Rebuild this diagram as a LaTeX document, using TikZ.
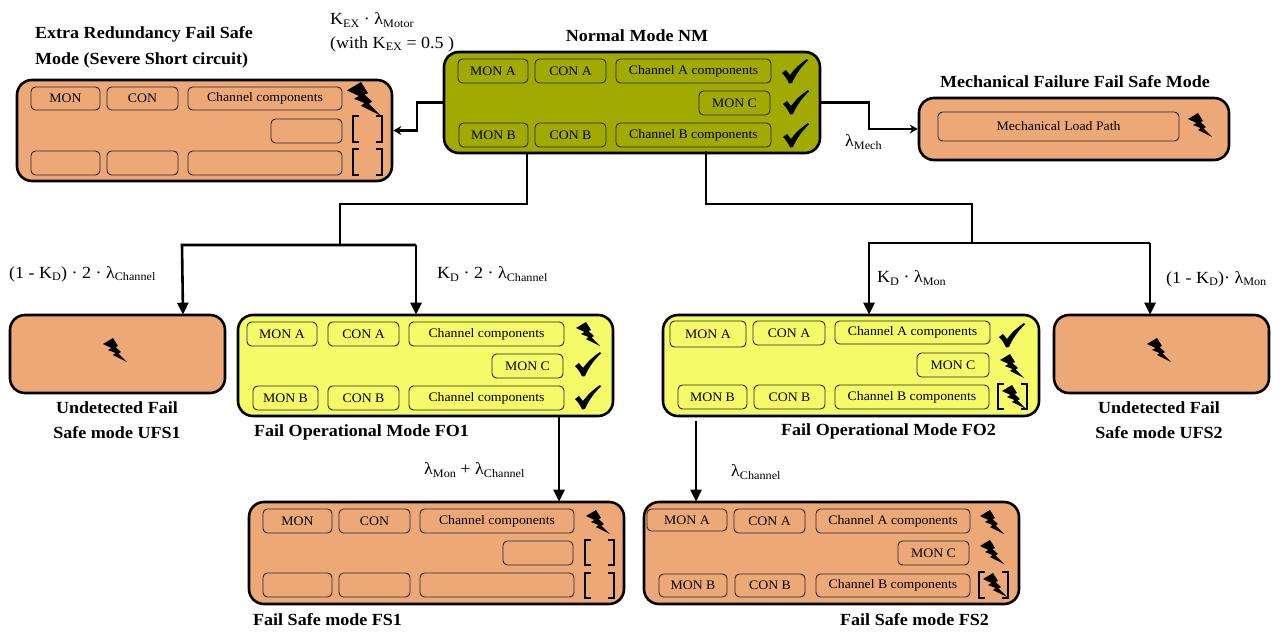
\documentclass[tikz,border=0pt]{standalone}
\usepackage{fontspec}
\setmainfont[FakeStretch=1.06]{Liberation Serif}
\usetikzlibrary{arrows.meta,calc}
\definecolor{orangefill}{RGB}{237,168,120}
\definecolor{olivefill}{RGB}{160,170,0}
\definecolor{yellowfill}{RGB}{245,250,105}
\newcommand{\sbs}[1]{\raisebox{-0.28ex}{\fontsize{11.5}{12}\selectfont #1}}
\newcommand{\lam}{λ}
\newcommand{\bx}[7][innerbox]{%
  \pgfmathsetmacro{\cxv}{(#4+#6)/2}\pgfmathsetmacro{\cyv}{(#3+#5)/2}%
  \pgfmathsetmacro{\wv}{#5-#3}\pgfmathsetmacro{\hv}{#6-#4}%
  \node[#1,minimum width=\wv pt,minimum height=\hv pt] (#2) at (\cyv,\cxv) {#7};}
\newcommand{\bolt}[3][1]{\begin{scope}[shift={(#2,#3)},scale=#1]
  \fill[black] (0,6) -- (10,0) -- (15,8) -- (12.5,9) -- (18,14) -- (15.5,15.5) -- (24,24) -- (10,17) -- (12.5,15) -- (5,12) -- (8.5,10) -- cycle;
  \end{scope}}
\newcommand{\chk}[2]{\begin{scope}[shift={(#1,#2)}]
  \fill[black] (0,14) -- (4,11) -- (8,16) .. controls (13,9) and (19,4) .. (25,0) -- (26,1.5) .. controls (19,8) and (14,15) .. (10,24) -- (7,24.5) .. controls (5,20) and (3,17) .. (0,14) -- cycle;
  \end{scope}}
\newcommand{\brk}[4]{\draw[bracket] (#1+6,#2) -- (#1,#2) -- (#1,#4) -- (#1+6,#4);
  \draw[bracket] (#3-6,#2) -- (#3,#2) -- (#3,#4) -- (#3-6,#4);}
\tikzset{
  x=1pt,y=-1pt,
  innerbox/.style={draw=black!85,rounded corners=4.5pt,line width=0.9pt,inner sep=0pt,font=\fontsize{13}{15}\selectfont},
  orangebox/.style={draw=black,fill=orangefill,rounded corners=15pt,line width=2.6pt,inner sep=0pt},
  olivebox/.style={orangebox,fill=olivefill},
  yellowbox/.style={orangebox,fill=yellowfill},
  conn/.style={draw=black,line width=2.6pt},
  connarrow/.style={conn,-{Triangle[length=12pt,width=11pt]},shorten >=-1pt},
  smallarrow/.style={conn,-{Stealth[length=8pt,width=9pt]}},
  bracket/.style={draw=black,line width=1.9pt},
  title/.style={font=\bfseries\fontsize{17}{20}\selectfont,inner sep=0pt},
  lab/.style={font=\fontsize{17}{20}\selectfont,inner sep=0pt},
}
\begin{document}
\begin{tikzpicture}
\useasboundingbox (0,0) rectangle (1283,632);
% outer boxes
\bx[olivebox]{nm}{444}{52}{820}{153}{}
\bx[orangebox]{erfs}{17}{80}{392}{181}{}
\bx[orangebox]{mf}{919}{98}{1229}{160}{}
\bx[orangebox]{ufs1}{10}{315}{225}{393}{}
\bx[yellowbox]{fo1}{238}{315}{613}{416}{}
\bx[yellowbox]{fo2}{663}{315}{1039}{416}{}
\bx[orangebox]{ufs2}{1054}{315}{1269}{393}{}
\bx[orangebox]{fs1}{249}{502}{624}{604}{}
\bx[orangebox]{fs2}{644}{502}{1019}{604}{}
% NM
\bx{nma}{458}{59}{528}{83}{MON A}
\bx{nmca}{535}{59}{606}{83}{CON A}
\bx{nmcha}{616}{59}{771}{83}{Channel A components}
\bx{nmc}{699}{91}{770}{115}{MON C}
\bx{nmb}{459}{123}{528}{147}{MON B}
\bx{nmcb}{535}{123}{606}{147}{CON B}
\bx{nmchb}{616}{123}{771}{147}{Channel B components}
\chk{782}{59}\chk{783}{90}\chk{783}{123}
% ERFS
\bx{e1}{31}{87}{100}{110}{MON}
\bx{e2}{107}{87}{178}{110}{CON}
\bx{e3}{188}{87}{342}{110}{Channel components}
\bx{e4}{271}{119}{342}{143}{}
\bx{e5}{31}{151}{100}{175}{}
\bx{e6}{107}{151}{178}{175}{}
\bx{e7}{188}{151}{342}{175}{}
\brk{353}{116}{382}{142}\brk{353}{149}{382}{175}
\bolt[1.4]{347}{82}
% MF
\bx{m1}{938}{112}{1179}{141}{Mechanical Load Path}
\bolt{1188}{113}
% UFS
\bolt{103}{338}\bolt{1147}{338}
% FO1
\bx{f1}{247}{322}{317}{346}{MON A}
\bx{f2}{328}{322}{399}{346}{CON A}
\bx{f3}{409}{322}{564}{346}{Channel components}
\bx{f4}{492}{354}{563}{378}{MON C}
\bx{f5}{253}{386}{318}{410}{MON B}
\bx{f6}{328}{386}{399}{410}{CON B}
\bx{f7}{409}{386}{564}{410}{Channel components}
\bolt{576}{322}\chk{575}{352}\chk{575}{385}
% FO2
\bx{g1}{670}{321}{746}{347}{MON A}
\bx{g2}{753}{321}{825}{345}{CON A}
\bx{g3}{835}{321}{990}{344}{Channel A components}
\bx{g4}{917}{353}{989}{377}{MON C}
\bx{g5}{678}{385}{747}{409}{MON B}
\bx{g6}{754}{385}{825}{409}{CON B}
\bx{g7}{835}{385}{989}{409}{Channel B components}
\chk{999}{323}
\bolt{1000}{354}
\brk{998}{384}{1027}{409}
\bolt{1002}{385}
% FS1
\bx{h1}{263}{509}{332}{533}{MON}
\bx{h2}{339}{509}{410}{533}{CON}
\bx{h3}{420}{509}{574}{533}{Channel components}
\bx{h4}{503}{541}{573}{565}{}
\bx{h5}{263}{573}{332}{597}{}
\bx{h6}{339}{573}{410}{597}{}
\bx{h7}{420}{573}{574}{597}{}
\bolt{586}{510}
\brk{585}{540}{614}{565}\brk{585}{573}{614}{598}
% FS2
\bx{k1}{647}{509}{727}{531}{MON A}
\bx{k2}{734}{509}{805}{533}{CON A}
\bx{k3}{816}{509}{970}{533}{Channel A components}
\bx{k4}{898}{541}{969}{565}{MON C}
\bx{k5}{659}{574}{727}{597}{MON B}
\bx{k6}{735}{574}{805}{597}{CON B}
\bx{k7}{816}{574}{970}{597}{Channel B components}
\bolt{980}{510}\bolt{980}{540}
\brk{979}{572}{1008}{598}
\bolt{983}{573}
% connectors
\coordinate (jl) at (417,102.5);
\coordinate (jr) at (869,102.5);
\draw[smallarrow] (nm.west) -- (jl) |- (erfs.east);
\draw[smallarrow] (nm.east) -- (jr) |- (mf.west);
\coordinate (ja) at (527,204);
\coordinate (jb) at (340,204);
\coordinate (jc) at (340,245);
\coordinate (jd) at (182,245);
\coordinate (je) at (416,245);
\draw[conn] ([xshift=-105pt]nm.south) -- (ja) -- (jb) -- (jc);
\draw[connarrow] (je) -- (jd) -- ([xshift=65.5pt]ufs1.north);
\draw[connarrow] (je) -- ([xshift=-9.5pt]fo1.north);
\coordinate (ka) at (706,204);
\coordinate (kb) at (972,204);
\coordinate (kc) at (972,243);
\coordinate (kd) at (869,243);
\coordinate (ke) at (1150,243);
\draw[conn] ([xshift=74pt,yshift=3pt]nm.south) -- (ka) -- (kb) -- (kc);
\draw[connarrow] (ke) -- (kd) -- ([xshift=18pt]fo2.north);
\draw[connarrow] (ke) -- ([xshift=-11.5pt]ufs2.north);
\draw[connarrow] ([xshift=133.5pt]fo1.south) -- ([xshift=122.5pt]fs1.north);
\draw[connarrow] ([xshift=-155pt,yshift=-4pt]fo2.south) -- ([xshift=-135.5pt]fs2.north);
% titles
\node[title] (tnm) at (637,36) {Normal Mode NM};
\node[title,anchor=west] (te1) at (35,34) {Extra Redundancy Fail Safe};
\node[title,anchor=west] (te2) at (35,60) {Mode (Severe Short circuit)};
\node[title] (tmf) at (1075,82) {Mechanical Failure Fail Safe Mode};
\node[title] (tu1a) at (117,408) {Undetected Fail};
\node[title] (tu1b) at (117,433) {Safe mode UFS1};
\node[title,anchor=west] (tfo1) at (254,432) {Fail Operational Mode FO1};
\node[title,anchor=west] (tfo2) at (781,431) {Fail Operational Mode FO2};
\node[title] (tu2a) at (1159,408) {Undetected Fail};
\node[title] (tu2b) at (1159,433) {Safe mode UFS2};
\node[title,anchor=west] (tfs1) at (253,620) {Fail Safe mode FS1};
\node[title,anchor=west] (tfs2) at (840,620) {Fail Safe mode FS2};
% rate labels
\node[lab,anchor=west] (l1) at (330,20) {K\sbs{EX} · \lam\sbs{Motor}};
\node[lab,anchor=west] (l2) at (330,44) {(with K\sbs{EX} = 0.5 )};
\node[lab,anchor=west] (l3) at (845,142) {\lam\sbs{Mech}};
\node[lab,anchor=west] (l4) at (9,274) {(1 - K\sbs{D}) · 2 · \lam\sbs{Channel}};
\node[lab,anchor=west] (l5) at (437,274) {K\sbs{D} · 2 · \lam\sbs{Channel}};
\node[lab,anchor=west] (l6) at (877,278) {K\sbs{D} · \lam\sbs{Mon}};
\node[lab,anchor=west] (l7) at (1166,279) {(1 - K\sbs{D})· \lam\sbs{Mon}};
\node[lab,anchor=west] (l8) at (424,470) {\lam\sbs{Mon} + \lam\sbs{Channel}};
\node[lab,anchor=west] (l9) at (731,472) {\lam\sbs{Channel}};
\end{tikzpicture}
\end{document}
